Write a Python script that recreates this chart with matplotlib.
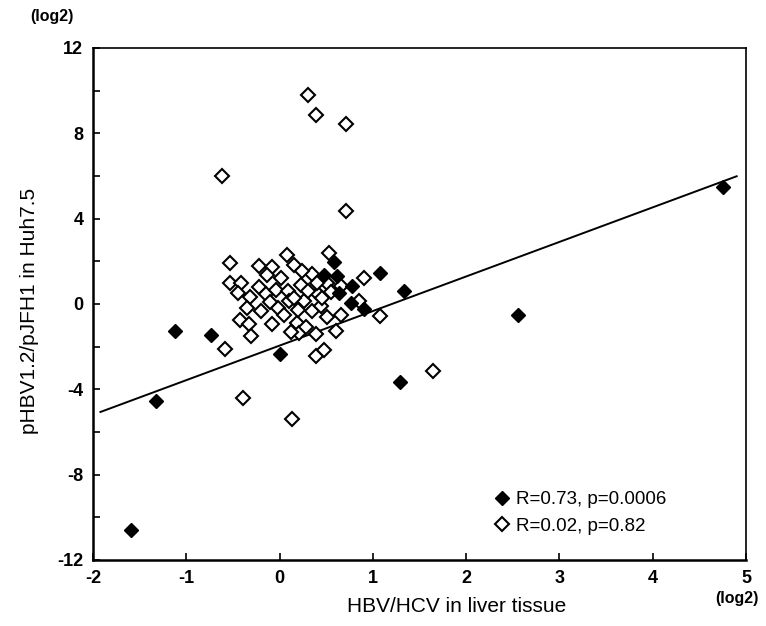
import matplotlib
matplotlib.use("Agg")
import matplotlib.pyplot as plt
from matplotlib.lines import Line2D
import numpy as np

plt.rcParams['font.family'] = ['Liberation Sans', 'DejaVu Sans']
plt.rcParams['axes.unicode_minus'] = False

# Filled diamonds (HBV/HCV in liver tissue, pHBV1.2/pJFH1)
filled_x = [4.75, -1.59, -1.33, -1.12, -0.74, 0.00, 0.48, 0.58, 0.62, 0.64,
            0.77, 0.78, 0.90, 1.08, 1.33, 1.29, 2.56]
filled_y = [5.5, -10.6, -4.55, -1.25, -1.45, -2.35, 1.35, 1.95, 1.3, 0.5,
            0.05, 0.85, -0.25, 1.45, 0.6, -3.65, -0.5]

# Open diamonds
open_x = [0.30, 0.39, 0.71, -0.62, 0.71, -0.39, 0.13, 1.65, -0.58, 1.08,
          0.91, 0.53, 0.39, 0.48,
          -0.53, -0.22, -0.08, 0.08, 0.15, -0.53, -0.41, -0.13, 0.01, -0.22,
          -0.32, -0.15, -0.04, 0.09, 0.23, 0.35, 0.24, 0.51, 0.66, 0.41,
          0.26, 0.10, -0.02, -0.35, -0.42, -0.33, -0.08, -0.20, 0.19, 0.21,
          0.35, 0.51, 0.66, 0.60, 0.39, -0.31, 0.28, 0.44, 0.85,
          0.05, 0.15, 0.30, -0.10, 0.40, 0.20, 0.45, -0.45, 0.12, 0.55]
open_y = [9.8, 8.85, 8.45, 6.0, 4.35, -4.4, -5.4, -3.15, -2.1, -0.55,
          1.2, 2.4, -2.45, -2.15,
          1.9, 1.8, 1.75, 2.3, 1.85, 1.0, 1.0, 1.35, 1.2, 0.8,
          0.35, 0.45, 0.65, 0.6, 0.9, 1.4, 1.55, 1.0, 0.85, 0.45,
          0.15, 0.15, -0.2, -0.2, -0.75, -0.95, -0.95, -0.35, -0.9, -1.35,
          -0.35, -0.6, -0.5, -1.25, -1.4, -1.5, -1.1, -0.1, 0.15,
          -0.5, 0.3, 0.6, 0.1, 1.0, -0.3, 0.3, 0.5, -1.3, 0.55]

# Regression line (filled series)
fit_slope = 1.62
fit_intercept = -1.95
fit_range = [-1.92, 4.9]

legend_labels = ["R=0.73, p=0.0006", "R=0.02, p=0.82"]
x_ticks = [-2, -1, 0, 1, 2, 3, 4, 5]
y_ticks = [-12, -8, -4, 0, 4, 8, 12]

fig = plt.figure(figsize=(7.66, 6.26), dpi=100)
ax = fig.add_axes([93/766, 1-560/626, (746-93)/766, (560-48)/626])

ax.plot(open_x, open_y, linestyle='none', marker='D', ms=6.8,
        mfc='white', mec='black', mew=1.5, zorder=3)
ax.plot(filled_x, filled_y, linestyle='none', marker='D', ms=6.8,
        mfc='black', mec='black', mew=1.0, zorder=4)

lx = np.array(fit_range)
ax.plot(lx, fit_intercept + fit_slope*lx, color='black', lw=1.4, zorder=2)

ax.set_xlim(-2, 5)
ax.set_ylim(-12, 12)
ax.set_xticks(x_ticks)
ax.set_yticks(y_ticks)
ax.set_yticks(np.arange(-10, 12, 4), minor=True)
ax.tick_params(axis='both', which='both', direction='in', length=5, width=1.2)
ax.tick_params(axis='x', which='major', pad=7)
ax.tick_params(axis='y', which='major', pad=7)
for lab in ax.get_xticklabels() + ax.get_yticklabels():
    lab.set_fontsize(13)
    lab.set_fontweight('bold')

for s in ['left', 'bottom']:
    ax.spines[s].set_linewidth(1.8)
for s in ['top', 'right']:
    ax.spines[s].set_linewidth(1.2)

fig.text(457/766, 1-607/626, "HBV/HCV in liver tissue", fontsize=15,
         ha='center', va='center')
fig.text(30/766, 1-311/626, "pHBV1.2/pJFH1 in Huh7.5", fontsize=15,
         ha='center', va='center', rotation=90)

fig.text(52/766, 1-17/626, "(log2)", fontsize=11.5, fontweight='bold',
         ha='center', va='center')
fig.text(737/766, 1-598/626, "(log2)", fontsize=11.5, fontweight='bold',
         ha='center', va='center')

handles = [Line2D([], [], linestyle='none', marker='D', ms=6.8, mfc='black', mec='black'),
           Line2D([], [], linestyle='none', marker='D', ms=6.8, mfc='white', mec='black', mew=1.5)]
ax.legend(handles, legend_labels, loc='upper left',
          bbox_to_anchor=(494/766, 1-491/626), bbox_transform=fig.transFigure,
          frameon=False, fontsize=13.5, handlelength=0.8, handletextpad=0.35,
          labelspacing=0.5, borderpad=0, borderaxespad=0)

fig.savefig("out.png", dpi=100)
